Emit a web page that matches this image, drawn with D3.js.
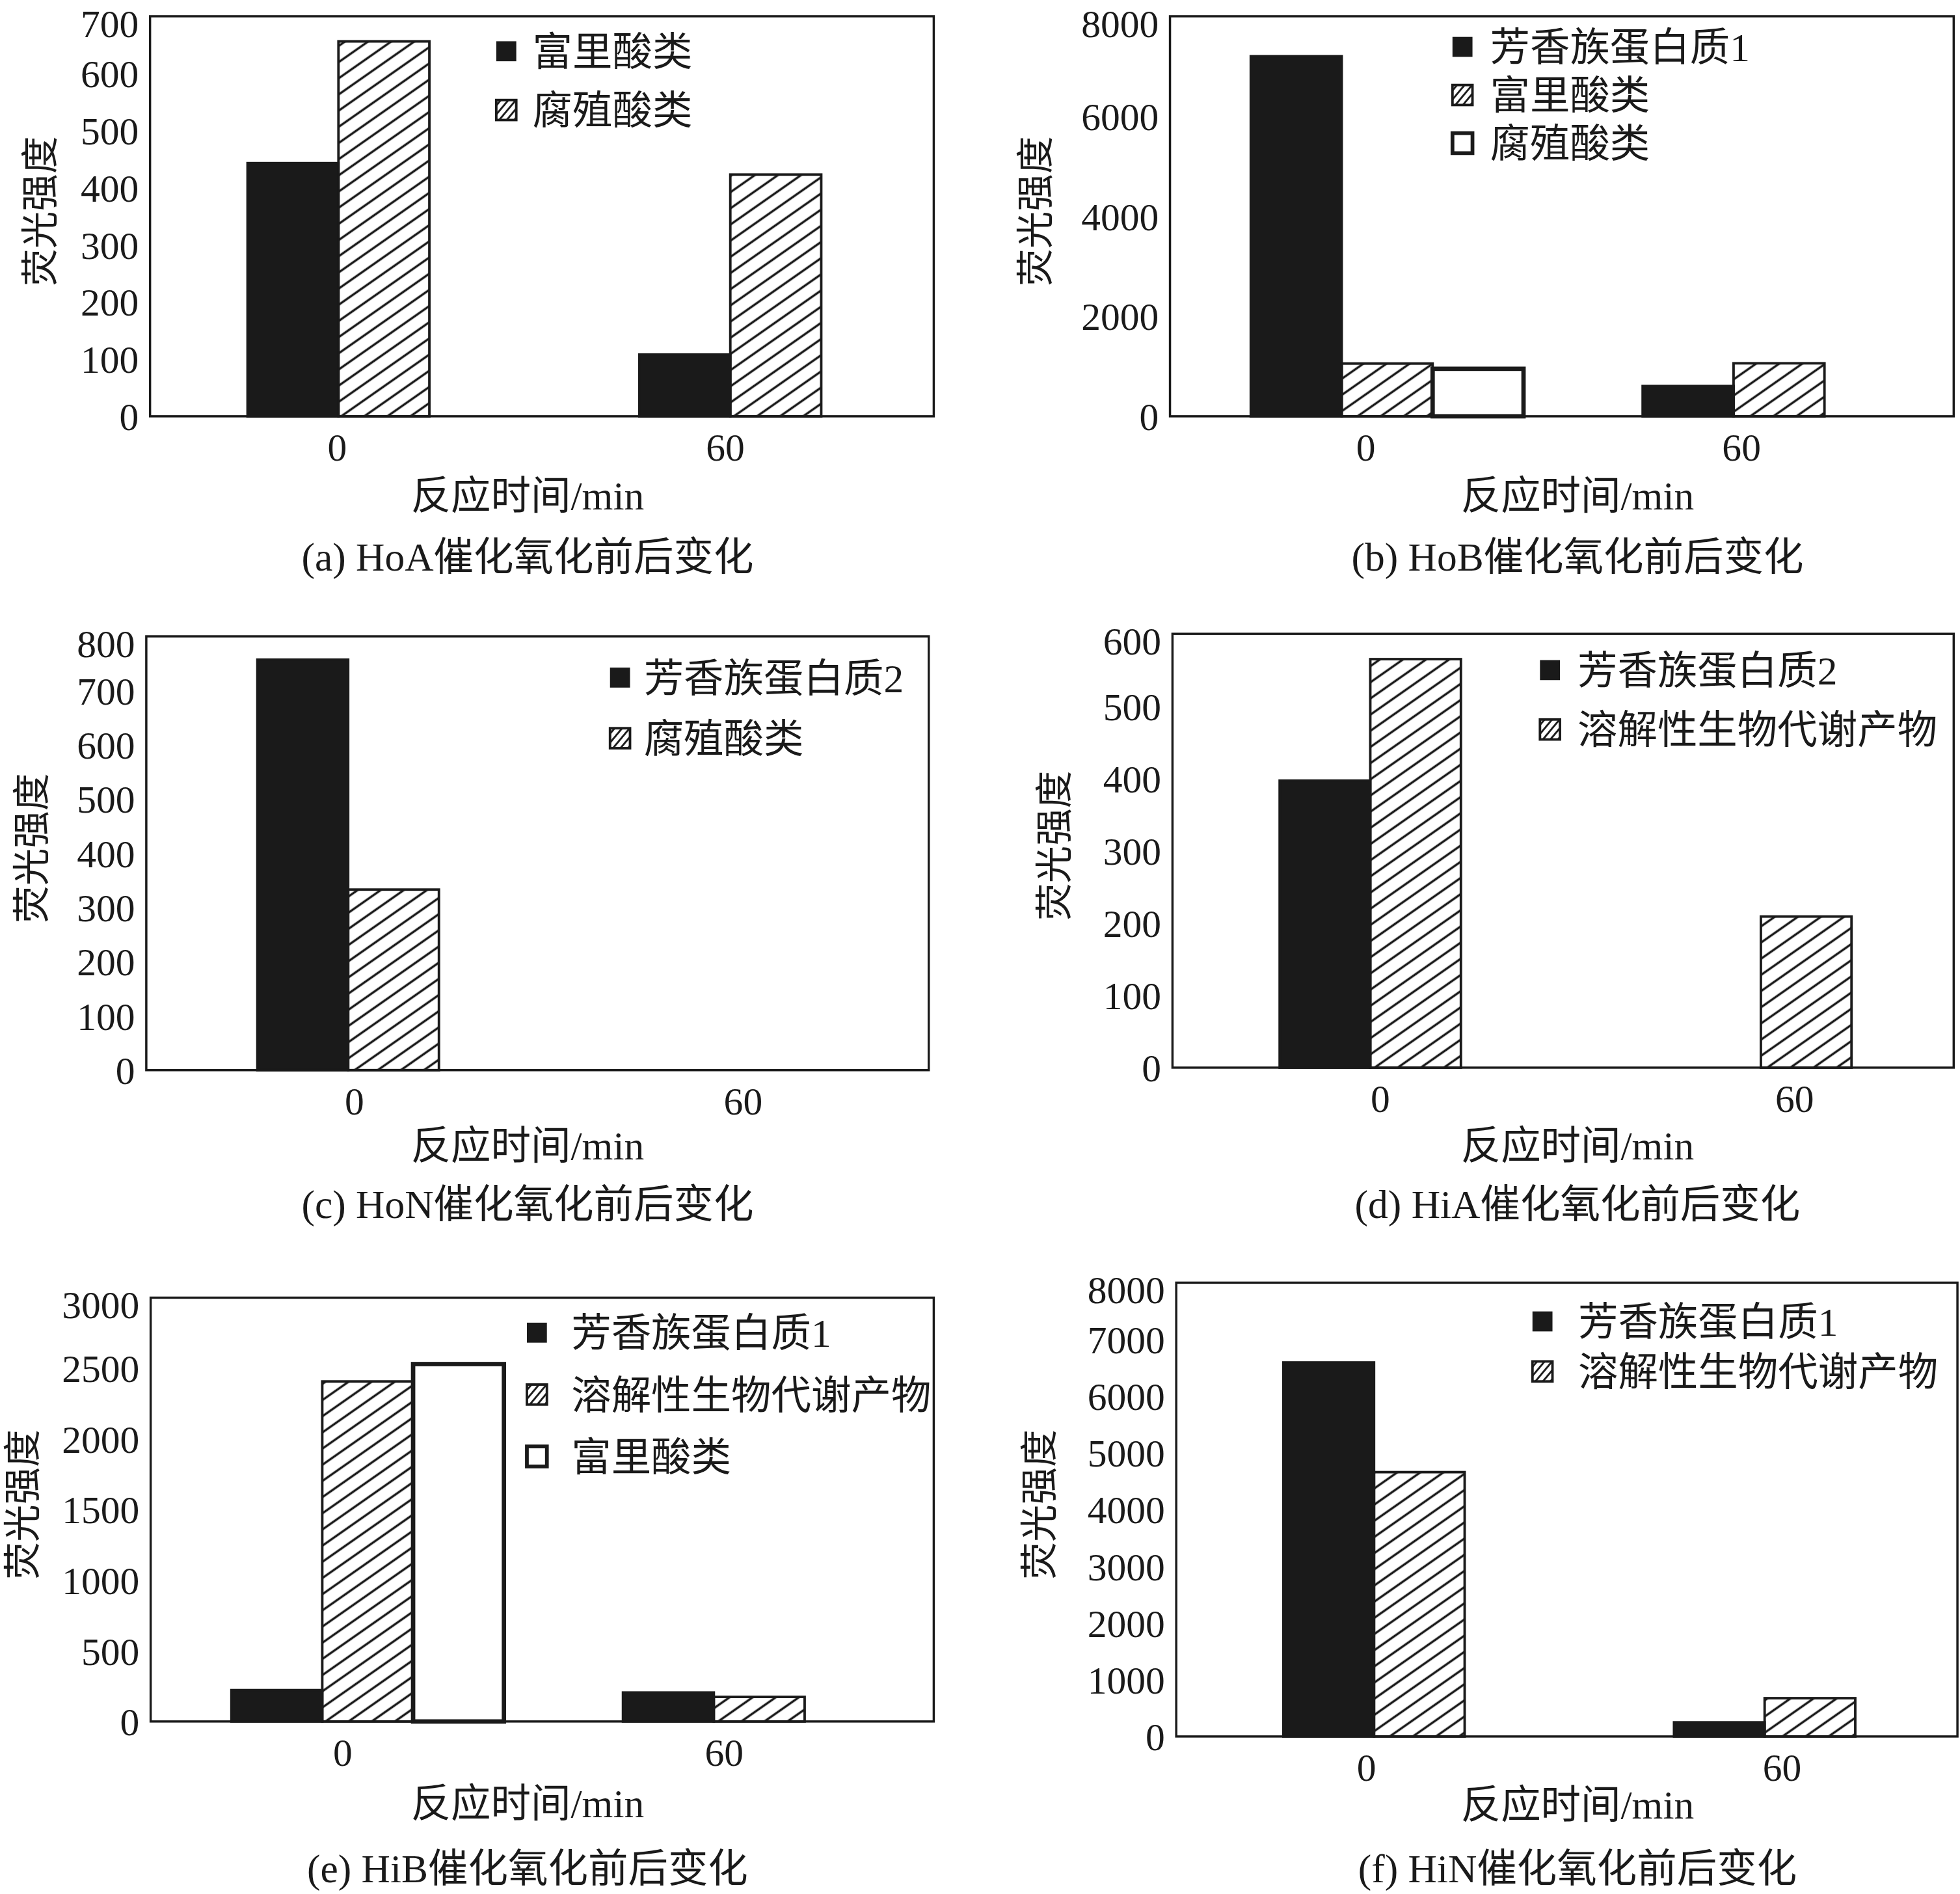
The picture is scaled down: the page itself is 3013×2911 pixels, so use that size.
<!DOCTYPE html>
<html>
<head>
<meta charset="utf-8">
<title>催化氧化前后荧光强度变化</title>
<script src="https://cdn.jsdelivr.net/npm/d3@7"></script>
<style>
body { margin: 0; background: #fff; }
svg { display: block; background: #fff; }
text { fill: #1a1a1a; font-family: "Liberation Serif", "Noto Sans CJK SC", serif; }
</style>
</head>
<body>
<svg id="fig" width="3013" height="2911" viewBox="0 0 1568 1515"></svg>
<script>
// reaction time categories (x axis)
var times = ["0", "60"];

// (a) HoA
var seriesA = ["富里酸类", "腐殖酸类"];
var valuesA = [[443, 108], [656, 423]];
var ticksA = [0, 100, 200, 300, 400, 500, 600, 700];

// (b) HoB
var seriesB = ["芳香族蛋白质1", "富里酸类", "腐殖酸类"];
var valuesB = [[7200, 605], [1055, 1060], [950, 0]];
var ticksB = [0, 2000, 4000, 6000, 8000];

// (c) HoN
var seriesC = ["芳香族蛋白质2", "腐殖酸类"];
var valuesC = [[757, 0], [333, 0]];
var ticksC = [0, 100, 200, 300, 400, 500, 600, 700, 800];

// (d) HiA
var seriesD = ["芳香族蛋白质2", "溶解性生物代谢产物"];
var valuesD = [[397, 0], [565, 209]];
var ticksD = [0, 100, 200, 300, 400, 500, 600];

// (e) HiB
var seriesE = ["芳香族蛋白质1", "溶解性生物代谢产物", "富里酸类"];
var valuesE = [[222, 205], [2407, 174], [2530, 0]];
var ticksE = [0, 500, 1000, 1500, 2000, 2500, 3000];

// (f) HiN
var seriesF = ["芳香族蛋白质1", "溶解性生物代谢产物"];
var valuesF = [[6593, 249], [4660, 675]];
var ticksF = [0, 1000, 2000, 3000, 4000, 5000, 6000, 7000, 8000];

var captions = ["(a) HoA催化氧化前后变化", "(b) HoB催化氧化前后变化", "(c) HoN催化氧化前后变化",
                "(d) HiA催化氧化前后变化", "(e) HiB催化氧化前后变化", "(f) HiN催化氧化前后变化"];
var xTitle = "反应时间/min";
var yTitle = "荧光强度";

var ink = "#1a1a1a";

// layout: box [left, top, right, bottom], legend [squareX, firstRowY, rowStep, textOffset]
var panels = [
  { series: seriesA, values: valuesA, ticks: ticksA, fills: ["solid", "hatch"],
    box: [120, 13, 747, 333], yTitleX: 32, cx: 422, titleY: 396, capY: 445,
    legend: [397, 41, 47, 29], shift: -6, nudge: [-7, -10] },
  { series: seriesB, values: valuesB, ticks: ticksB, fills: ["solid", "hatch", "open"],
    box: [936, 13, 1563, 333], yTitleX: 828, cx: 1262, titleY: 396, capY: 445,
    legend: [1162, 37.5, 38.5, 30], shift: 17, nudge: [0, -13] },
  { series: seriesC, values: valuesC, ticks: ticksC, fills: ["solid", "hatch"],
    box: [117, 509, 743, 856], yTitleX: 25, cx: 422, titleY: 916, capY: 963,
    legend: [488, 542, 48.5, 27], shift: 5, nudge: [10, 8] },
  { series: seriesD, values: valuesD, ticks: ticksD, fills: ["solid", "hatch"],
    box: [938, 507, 1563, 854], yTitleX: 843, cx: 1262, titleY: 916, capY: 963,
    legend: [1232, 536, 47.5, 30], shift: 2, nudge: [10, 29] },
  { series: seriesE, values: valuesE, ticks: ticksE, fills: ["solid", "hatch", "open"],
    box: [120.5, 1038, 747, 1377], yTitleX: 18, cx: 422, titleY: 1442, capY: 1494,
    legend: [421.5, 1066, 49.5, 35.5], shift: 17, nudge: [-3, -11] },
  { series: seriesF, values: valuesF, ticks: ticksF, fills: ["solid", "hatch"],
    box: [941, 1026, 1566, 1389], yTitleX: 831, cx: 1262, titleY: 1443, capY: 1494,
    legend: [1226, 1057, 40, 36.5], shift: 2, nudge: [-4, 16] }
];

var svg = d3.select("#fig");
svg.append("rect").attr("width", 1568).attr("height", 1515).attr("fill", "#fff");

var defs = svg.append("defs");
defs.append("pattern").attr("id", "hatch")
    .attr("patternUnits", "userSpaceOnUse").attr("width", 10).attr("height", 10.6)
    .attr("patternTransform", "rotate(-35)")
  .append("line").attr("x1", -1).attr("x2", 11).attr("y1", 5.3).attr("y2", 5.3)
    .attr("stroke", ink).attr("stroke-width", 1.8);
defs.append("pattern").attr("id", "hatchSmall")
    .attr("patternUnits", "userSpaceOnUse").attr("width", 5).attr("height", 4.6)
    .attr("patternTransform", "rotate(-50)")
  .append("line").attr("x1", -1).attr("x2", 6).attr("y1", 2.3).attr("y2", 2.3)
    .attr("stroke", ink).attr("stroke-width", 1.5);

function fillOf(kind, small) {
  if (kind === "solid") return ink;
  if (kind === "hatch") return small ? "url(#hatchSmall)" : "url(#hatch)";
  return "#fff";
}

panels.forEach(function (p, pi) {
  var l = p.box[0], t = p.box[1], r = p.box[2], b = p.box[3];
  var g = svg.append("g");

  var x0 = d3.scaleBand().domain(times).range([l, r]);
  var barW = x0.bandwidth() * 0.232;
  var x1 = d3.scaleBand().domain(d3.range(p.series.length))
      .range([0, barW * p.series.length]);
  var y = d3.scaleLinear().domain([0, d3.max(p.ticks)]).range([b, t]);

  var rows = [];
  p.series.forEach(function (s, si) {
    times.forEach(function (tm, ti) {
      rows.push({ s: si, t: tm, v: p.values[si][ti], kind: p.fills[si] });
    });
  });

  g.selectAll("rect.bar").data(rows.filter(function (d) { return d.v > 0; }))
    .enter().append("rect").attr("class", "bar")
    .attr("x", function (d) {
      return x0(d.t) + x0.bandwidth() / 2 - x1.range()[1] / 2 + p.shift + x1(d.s);
    })
    .attr("width", x1.bandwidth())
    .attr("y", function (d) { return y(d.v); })
    .attr("height", function (d) { return b - y(d.v); })
    .attr("fill", function (d) { return fillOf(d.kind, false); })
    .attr("stroke", ink)
    .attr("stroke-width", function (d) { return d.kind === "open" ? 3.5 : 2; });

  // frame
  g.append("rect").attr("x", l).attr("y", t).attr("width", r - l).attr("height", b - t)
    .attr("fill", "none").attr("stroke", ink).attr("stroke-width", 1.8);

  // y axis labels (no tick marks in the original)
  var top = d3.max(p.ticks);
  var ya = g.append("g").attr("transform", "translate(" + (l - 9) + ",0)")
    .call(d3.axisLeft(y).tickValues(p.ticks).tickSize(0).tickPadding(0).tickFormat(d3.format("d")));
  ya.select(".domain").remove();
  ya.selectAll("text").attr("font-size", 31).attr("fill", ink)
    .attr("font-family", "Liberation Serif, serif")
    .attr("dy", function (d) { return d === top ? "0.52em" : "0.34em"; });

  // x axis labels
  var xa = g.append("g").attr("transform", "translate(0," + (b + 25) + ")")
    .call(d3.axisBottom(x0).tickSize(0).tickPadding(0));
  xa.select(".domain").remove();
  xa.selectAll(".tick text").attr("font-size", 31).attr("fill", ink)
    .attr("font-family", "Liberation Serif, serif").attr("dy", "0.34em")
    .attr("dx", function (d, i) { return p.nudge[i]; });

  g.append("text").attr("x", p.cx).attr("y", p.titleY).attr("text-anchor", "middle")
    .attr("dy", "0.36em").attr("font-size", 32).text(xTitle);
  g.append("text").attr("x", p.cx).attr("y", p.capY).attr("text-anchor", "middle")
    .attr("dy", "0.36em").attr("font-size", 32).text(captions[pi]);

  g.append("text").attr("transform", "translate(" + p.yTitleX + "," + ((t + b) / 2 - 4) + ") rotate(-90)")
    .attr("text-anchor", "middle").attr("dy", "0.36em").attr("font-size", 30).text(yTitle);

  // legend
  var lg = p.legend;
  var items = g.selectAll("g.leg").data(p.series).enter().append("g").attr("class", "leg")
    .attr("transform", function (d, i) { return "translate(" + lg[0] + "," + (lg[1] + i * lg[2]) + ")"; });
  items.append("rect").attr("x", 0).attr("y", -8).attr("width", 16).attr("height", 16)
    .attr("fill", function (d, i) { return fillOf(p.fills[i], true); })
    .attr("stroke", ink)
    .attr("stroke-width", function (d, i) { return p.fills[i] === "open" ? 3 : (p.fills[i] === "hatch" ? 2 : 0); });
  items.append("text").attr("x", lg[3]).attr("y", 0).attr("dy", "0.36em")
    .attr("font-size", 32).text(function (d) { return d; });
});
</script>
</body>
</html>
